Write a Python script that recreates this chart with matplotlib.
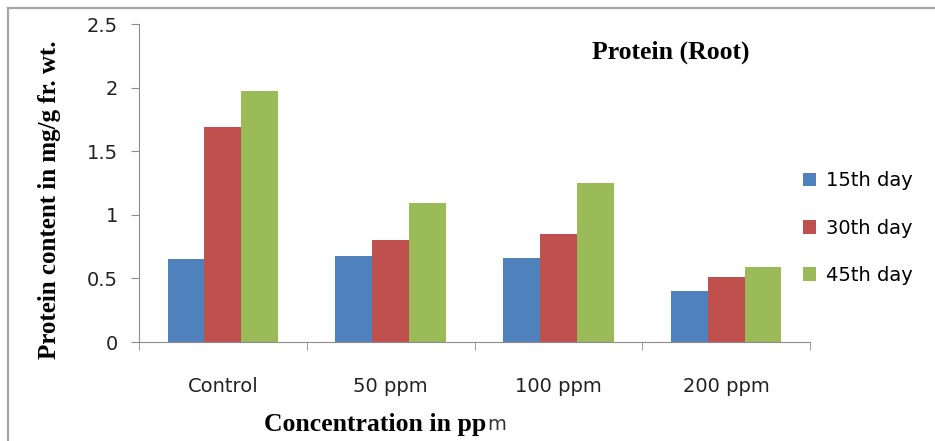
import numpy as np
import matplotlib
matplotlib.use("Agg")
import matplotlib.pyplot as plt
from matplotlib.lines import Line2D

# data
categories = ["Control", "50 ppm", "100 ppm", "200 ppm"]
series_names = ["15th day", "30th day", "45th day"]
day15 = [0.65, 0.68, 0.66, 0.40]
day30 = [1.69, 0.80, 0.85, 0.51]
day45 = [1.97, 1.09, 1.25, 0.59]
colors = ["#4F81BD", "#C0504D", "#9BBB59"]

W, H = 935, 441
fig = plt.figure(figsize=(W / 100, H / 100), dpi=100)
ax = fig.add_axes([139 / W, 1 - 342 / H, (810 - 139) / W, (342 - 24) / H])

# outer chart border (only top and left visible, runs off the picture)
fig.lines.append(Line2D([8 / W, 1.0], [1 - 8 / H, 1 - 8 / H], transform=fig.transFigure,
                        color="#a6a6a6", linewidth=1.6))
fig.lines.append(Line2D([8 / W, 8 / W], [0.0, 1 - 8 / H], transform=fig.transFigure,
                        color="#a6a6a6", linewidth=1.6))

x = np.arange(len(categories))
w = 0.22
for i, (vals, name) in enumerate(zip([day15, day30, day45], series_names)):
    ax.bar(x + (i - 1) * w, vals, width=w, color=colors[i], label=name,
           edgecolor="none")

ax.set_xlim(-0.5, len(categories) - 0.5)
ax.set_ylim(0, 2.5)
ax.set_yticks([0, 0.5, 1, 1.5, 2, 2.5])
ax.set_yticklabels(["0", "0.5", "1", "1.5", "2", "2.5"])
ax.set_xticks(x)
ax.set_xticklabels(categories)
ax.set_xticks(np.arange(-0.5, len(categories), 1), minor=True)
ax.tick_params(axis="x", which="major", length=0, pad=25, labelsize=14, colors="#222222")
ax.tick_params(axis="x", which="minor", length=6, color="#8c8c8c")
ax.tick_params(axis="y", length=6, color="#8c8c8c", labelsize=14, pad=9, labelcolor="#222222")

for s in ["top", "right"]:
    ax.spines[s].set_visible(False)
for s in ["left", "bottom"]:
    ax.spines[s].set_color("#8c8c8c")

serif = "Liberation Serif"
fig.text(50 / W, 1 - 200 / H, "Protein content in mg/g fr. wt.", rotation=90,
         ha="center", va="center", family=serif, fontweight="bold", fontsize=18)
fig.text(486 / W, 1 - 425 / H, "Concentration in pp", ha="right", va="center",
         family=serif, fontweight="bold", fontsize=18.5)
fig.text(487 / W, 1 - 425 / H, "m", ha="left", va="center", fontsize=14, color="#333333")
ax.text((671 - 139) / 671, 1 - (52 - 24) / 318, "Protein (Root)", transform=ax.transAxes,
        ha="center", va="center", family=serif, fontweight="bold", fontsize=18.5)

fig.legend(loc="center left", bbox_to_anchor=(785 / W, 1 - 228 / H),
           frameon=False, fontsize=14, handlelength=0.7, handleheight=0.7,
           labelspacing=1.45, handletextpad=0.5)

fig.savefig("out.png", dpi=100)
